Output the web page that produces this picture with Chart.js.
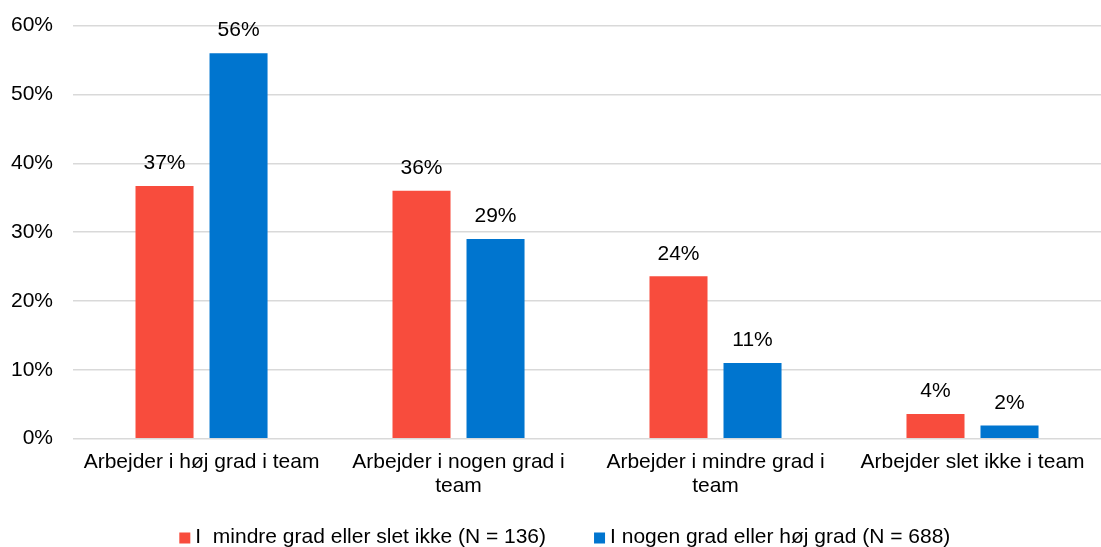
<!DOCTYPE html>
<html>
<head>
<meta charset="utf-8">
<script src="https://cdn.jsdelivr.net/npm/chart.js@4/dist/chart.umd.min.js"></script>
<style>
  html, body { margin: 0; padding: 0; background: #fff; overflow: hidden; }
  #wrap { width: 1101px; height: 554px; margin-top: -7px; }
</style>
</head>
<body>
<div id="wrap"><canvas id="barChart"></canvas></div>
<script>
'use strict';

// categories (wrapped like the original)
var categories = [
  'Arbejder i høj grad i team',
  ['Arbejder i nogen grad i', 'team'],
  ['Arbejder i mindre grad i', 'team'],
  'Arbejder slet ikke i team'
];
var seriesNames = [
  'I  mindre grad eller slet ikke (N = 136)',
  'I nogen grad eller høj grad (N = 688)'
];
// values in percent
var lessValues = [36.7, 36, 23.6, 3.6];
var moreValues = [56, 29, 11, 1.9];
var yTicks = [0, 10, 20, 30, 40, 50, 60];

var FONT = 'Liberation Sans, Arial, sans-serif';
var SIZE = 21;

// simple value labels above the bars (no datalabels plugin available)
var barLabels = {
  id: 'barLabels',
  afterDatasetsDraw: function(chart) {
    var ctx = chart.ctx;
    ctx.save();
    ctx.font = SIZE + 'px ' + FONT;
    ctx.fillStyle = '#000';
    ctx.textAlign = 'center';
    ctx.textBaseline = 'bottom';
    chart.data.datasets.forEach(function(ds, i) {
      chart.getDatasetMeta(i).data.forEach(function(bar, j) {
        ctx.fillText(Math.round(ds.data[j]) + '%', bar.x, bar.y - 12);
      });
    });
    ctx.restore();
  }
};

// legend drawn by hand so the box/text gaps match the original
var bottomLegend = {
  id: 'bottomLegend',
  afterDraw: function(chart) {
    var ctx = chart.ctx;
    var box = 11, gap = 5, between = 48;
    ctx.save();
    ctx.font = SIZE + 'px ' + FONT;
    ctx.textBaseline = 'middle';
    ctx.textAlign = 'left';
    var widths = chart.data.datasets.map(function(ds) {
      return ctx.measureText(ds.label).width;
    });
    var total = 0;
    widths.forEach(function(w, i) {
      total += box + gap + w + (i ? between : 0);
    });
    var x = chart.width * 0.513 - total / 2;
    var y = chart.height - 10;
    chart.data.datasets.forEach(function(ds, i) {
      ctx.fillStyle = ds.backgroundColor;
      ctx.fillRect(x, y - box / 2 + 1, box, box);
      ctx.fillStyle = '#000';
      ctx.fillText(ds.label, x + box + gap, y);
      x += box + gap + widths[i] + between;
    });
    ctx.restore();
  }
};

var ctx = document.getElementById('barChart').getContext('2d');
var chart = new Chart(ctx, {
  type: 'bar',
  data: {
    labels: categories,
    datasets: [{
      label: seriesNames[0],
      data: lessValues,
      backgroundColor: '#F84C3D'
    }, {
      label: seriesNames[1],
      data: moreValues,
      backgroundColor: '#0075CF'
    }]
  },
  plugins: [barLabels, bottomLegend],
  options: {
    responsive: true,
    maintainAspectRatio: false,
    animation: false,
    categoryPercentage: 0.576,
    barPercentage: 0.784,
    layout: { padding: { top: 0, right: 0, left: -9, bottom: 46 } },
    plugins: {
      legend: { display: false },
      tooltip: { enabled: false }
    },
    scales: {
      x: {
        grid: { display: false },
        border: { display: false },
        ticks: {
          font: { family: FONT, size: SIZE, lineHeight: 1.15 },
          color: '#000',
          maxRotation: 0,
          autoSkip: false
        }
      },
      y: {
        min: 0,
        max: 60,
        afterBuildTicks: function(axis) {
          axis.ticks = yTicks.map(function(v) { return { value: v }; });
        },
        grid: { color: '#D9D9D9', lineWidth: 1.5, drawTicks: false },
        border: { display: false },
        ticks: {
          font: { family: FONT, size: SIZE },
          color: '#000',
          padding: 20,
          callback: function(v) { return v + '%'; }
        }
      }
    }
  }
});
</script>
</body>
</html>
